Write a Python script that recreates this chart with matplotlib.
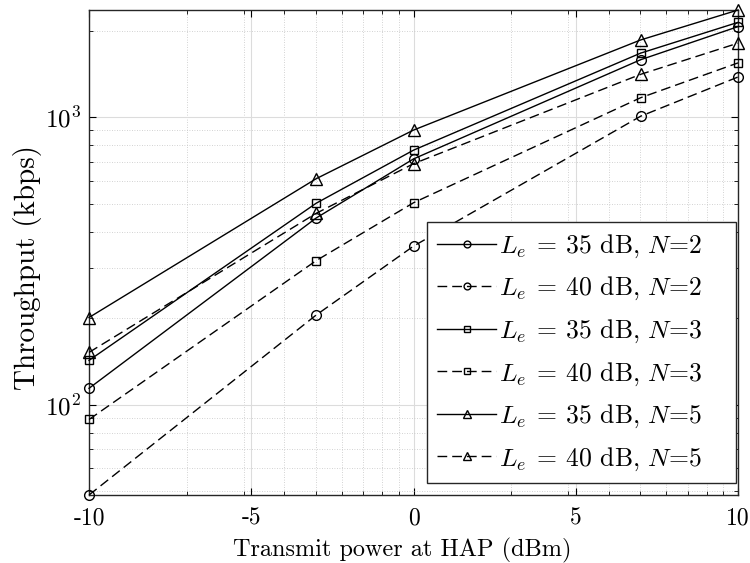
import numpy as np
import matplotlib
matplotlib.use("Agg")
import matplotlib.pyplot as plt
from matplotlib.ticker import FixedLocator, FixedFormatter, LogLocator, NullFormatter

plt.rcParams['font.family'] = ['cmr10', 'DejaVu Serif']
plt.rcParams['mathtext.fontset'] = 'cm'
plt.rcParams['axes.unicode_minus'] = False
plt.rcParams['axes.formatter.use_mathtext'] = True

# Data
power_dbm = [-10, -3, 0, 7, 10]
thr_35_n2 = [114, 446, 716, 1585, 2066]
thr_40_n2 = [48.5, 205, 356, 1008, 1380]
thr_35_n3 = [142.6, 502, 768, 1671, 2138]
thr_40_n3 = [88.8, 317, 504, 1169, 1545]
thr_35_n5 = [201, 611, 902, 1857, 2360]
thr_40_n5 = [152, 463, 689, 1410, 1810]
labels = [r'$L_e\:=\:35$ dB, $N$=2', r'$L_e\:=\:40$ dB, $N$=2',
          r'$L_e\:=\:35$ dB, $N$=3', r'$L_e\:=\:40$ dB, $N$=3',
          r'$L_e\:=\:35$ dB, $N$=5', r'$L_e\:=\:40$ dB, $N$=5']
xtick_dbm = [-10, -5, 0, 5, 10]
xtick_labels = ['-10', '-5', '0', '5', '10']

series = [thr_35_n2, thr_40_n2, thr_35_n3, thr_40_n3, thr_35_n5, thr_40_n5]
markers = ['o', 'o', 's', 's', '^', '^']
msizes = [7, 7, 6.3, 6.3, 8, 8]
dashed = [False, True, False, True, False, True]

x_mw = 10 ** (np.array(power_dbm) / 10.0)

fig = plt.figure(figsize=(7.5, 5.63), dpi=100)
ax = fig.add_axes([0.1187, 0.1208, 0.8653, 0.8614])

for y, m, ms, d, lab in zip(series, markers, msizes, dashed, labels):
    kw = dict(color='black', lw=1.0, marker=m, ms=ms, mfc='none', mec='black', mew=1.0,
              label=lab, clip_on=False, zorder=3)
    if d:
        ax.plot(x_mw, y, linestyle=(0, (7, 3.6)), **kw)
    else:
        ax.plot(x_mw, y, linestyle='-', **kw)

ax.set_xscale('log')
ax.set_yscale('log')
ax.set_xlim(x_mw.min(), x_mw.max())
allv = np.concatenate([np.array(s) for s in series])
ax.set_ylim(allv.min(), allv.max())

ax.xaxis.set_major_locator(FixedLocator(10 ** (np.array(xtick_dbm) / 10.0)))
ax.xaxis.set_major_formatter(FixedFormatter(xtick_labels))
ax.xaxis.set_minor_locator(LogLocator(base=10, subs=np.arange(2, 10)))
ax.xaxis.set_minor_formatter(NullFormatter())
ax.yaxis.set_major_locator(FixedLocator([100, 1000]))
ax.yaxis.set_major_formatter(FixedFormatter([r'$10^2$', r'$10^3$']))
ax.yaxis.set_minor_locator(LogLocator(base=10, subs=np.arange(2, 10)))
ax.yaxis.set_minor_formatter(NullFormatter())

ax.tick_params(which='both', direction='in', top=True, right=True, colors='black')
ax.tick_params(which='major', length=5, width=0.8)
ax.tick_params(which='minor', length=3, width=0.6)
ax.tick_params(axis='x', which='major', labelsize=17, pad=9)
ax.tick_params(axis='y', which='major', labelsize=18, pad=6)

ax.grid(True, which='major', color='#dcdcdc', lw=0.8, linestyle='-')
ax.grid(True, which='minor', color='#c4c4c4', lw=0.6, linestyle=(0, (1, 2)))
ax.set_axisbelow(True)
for sp in ax.spines.values():
    sp.set_linewidth(1.0)
    sp.set_color('#262626')

ax.set_xlabel('Transmit power at HAP (dBm)', fontsize=17.5, labelpad=6, x=0.483)
ax.set_ylabel('Throughput (kbps)', fontsize=21, labelpad=2, y=0.469)

leg = ax.legend(loc='lower left', bbox_to_anchor=(0.5208, 0.025, 0.476, 0.538),
                mode='expand', borderaxespad=0,
                fontsize=18.5, frameon=True, fancybox=False, framealpha=1,
                edgecolor='#262626', handlelength=2.3, labelspacing=0.59,
                markerscale=0.7, handletextpad=0.1, borderpad=0.4)
leg.get_frame().set_linewidth(1.0)

fig.savefig('out.png', dpi=100)
